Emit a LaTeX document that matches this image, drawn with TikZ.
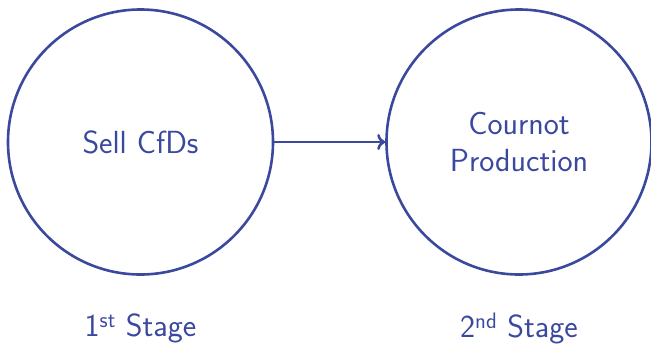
\documentclass[tikz,border=0pt]{standalone}
\usetikzlibrary{arrows.meta}
\definecolor{stc}{RGB}{58,72,158}
\begin{document}
\begin{tikzpicture}[x=1pt,y=-1pt,
  stagecircle/.style={circle,draw=stc,line width=2.6pt,minimum size=265pt,inner sep=0pt,text=stc,font=\sffamily\fontsize{32}{37}\selectfont,align=center},
  stagelabel/.style={text=stc,font=\sffamily\fontsize{32}{37}\selectfont}]
\useasboundingbox (0,0) rectangle (651,349);
\node[stagecircle] (a) at (140.5,142) {Sell CfDs};
\node[stagecircle] (b) at (519,142) {Cournot\\Production};
\draw[stc,line width=2.6pt,-{To[length=8pt,width=16pt]}] (a) -- (b);
\node[stagelabel] (la) at (140.5,328) {1\textsuperscript{st} Stage};
\node[stagelabel] (lb) at (519,328) {2\textsuperscript{nd} Stage};
\end{tikzpicture}
\end{document}
